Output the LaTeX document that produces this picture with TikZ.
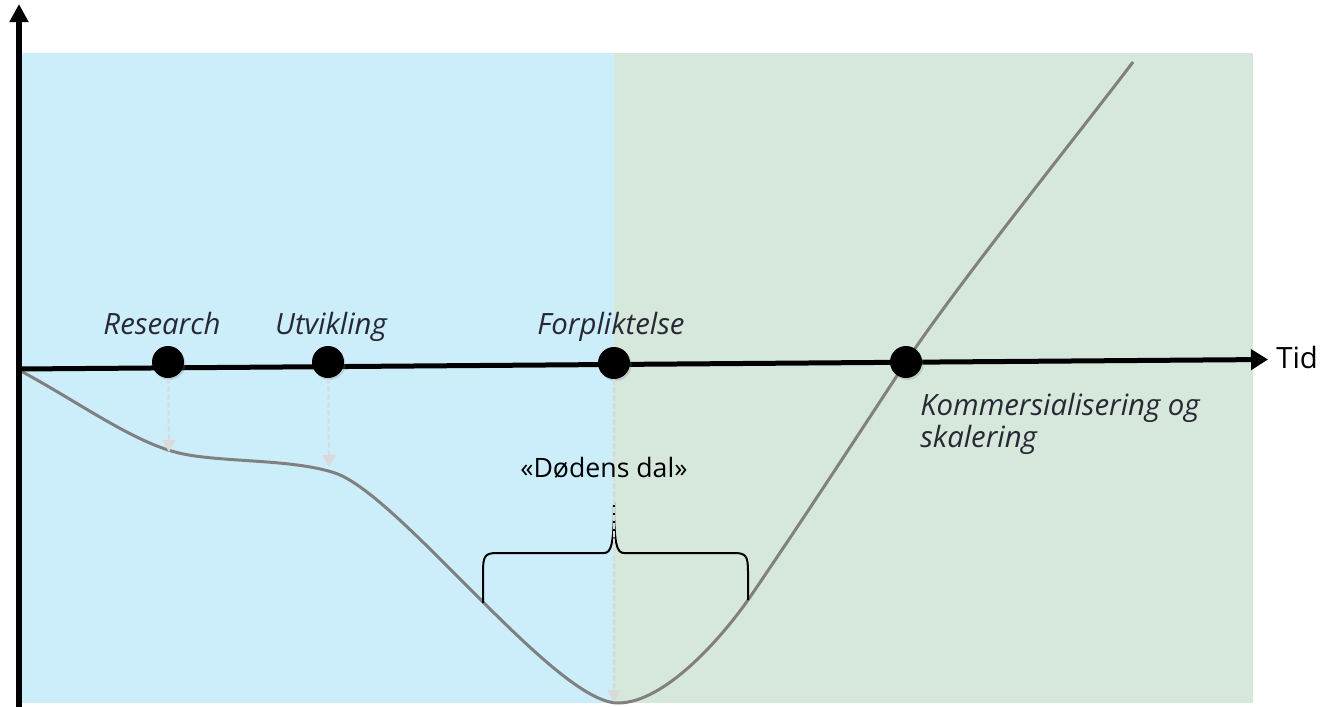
\documentclass[tikz,border=0pt]{standalone}
\usepackage{fontspec}
\setmainfont{Open Sans}
\usetikzlibrary{arrows.meta,positioning,shadows}
\definecolor{dalblue}{RGB}{204,238,250}
\definecolor{dalgreen}{RGB}{214,231,220}
\definecolor{kurvegray}{RGB}{128,128,128}
\definecolor{pilgray}{RGB}{218,218,218}
\definecolor{fasetekst}{RGB}{40,40,52}
\tikzset{
    milepel/.style={circle,fill=black,inner sep=0pt,minimum size=24pt,
        drop shadow={shadow xshift=1.2pt,shadow yshift=-1.5pt,opacity=0.25}},
    fase/.style={font=\fontsize{22}{24}\selectfont\itshape,text=fasetekst,anchor=base},
    nedpil/.style={-{Triangle[length=9pt,width=10pt]},pilgray,line width=1.5pt,dash pattern=on 4pt off 2pt}
}
\begin{document}
\begin{tikzpicture}[x=0.75pt,y=-0.75pt]

                \useasboundingbox (0,0) rectangle (1332,707);
                \fill [dalblue] (21,53) rectangle (614,703);
                \fill [dalgreen] (614,53) rectangle (1253,703);

                \coordinate (O) at (19,369);
                \coordinate (T) at (1268,359.5);
                \coordinate (Y) at (19,4);
                \coordinate (Ybunn) at (19,707);

                \draw [kurvegray,line width=2.25pt] (19,370) .. controls (75,400) and (130,440) .. (175,452)
                    .. controls (215,463) and (290,458) .. (335,473)
                    .. controls (400,495) and (555,703) .. (618,703)
                    .. controls (665,703) and (722,637) .. (748,600)
                    .. controls (800,524) and (860,432) .. (906,362)
                    .. controls (953,290) and (1080,132) .. (1133,62);

                \draw [line width=4.5pt,-{Triangle[length=13.5pt,width=13.5pt]}] (Ybunn)--(Y);
                \draw [line width=3.75pt,-{Triangle[length=12.75pt,width=15pt]}] (O)--(T);
                \node at (1276,368) [anchor=base west,inner sep=0pt,font=\fontsize{22}{24}\selectfont] (tid) {Tid};

                \draw [line width=1.5pt] (483,603)--(483,572) .. controls (483,556) and (485,553) .. (497,553)
                    --(604,553) .. controls (611,553) and (614,545) .. (614,502)
                    .. controls (614,545) and (617,553) .. (624,553)
                    --(734,553) .. controls (746,553) and (748,556) .. (748,572)--(748,600);

                \node [milepel] (research) at (168,362) {};
                \node [milepel] (utvikling) at (328,362) {};
                \node [milepel] (forplikt) at (614,363) {};
                \node [milepel] (kommers) at (906,362) {};

                \coordinate (researchbunn) at (169,452);
                \coordinate (utviklingbunn) at (329,467);
                \coordinate (forpliktbunn) at (614,702);
                \draw [nedpil] (research)--(researchbunn);
                \draw [nedpil] (utvikling)--(utviklingbunn);
                \draw [nedpil] (forplikt)--(forpliktbunn);

                \node at (520,477) [anchor=base west,inner sep=0pt,font=\fontsize{20}{24}\selectfont] (dal) {«Dødens dal»};
                \node [fase] at (162,334) (researchtekst) {Research};
                \node [fase] at (331,334) (utviklingtekst) {Utvikling};
                \node [fase] at (611,334) (forplikttekst) {Forpliktelse};
                \node [fase,align=left,anchor=base west,inner sep=0pt] at (920,447) (kommerstekst) {Kommersialisering og\\skalering};
            \end{tikzpicture}
\end{document}
